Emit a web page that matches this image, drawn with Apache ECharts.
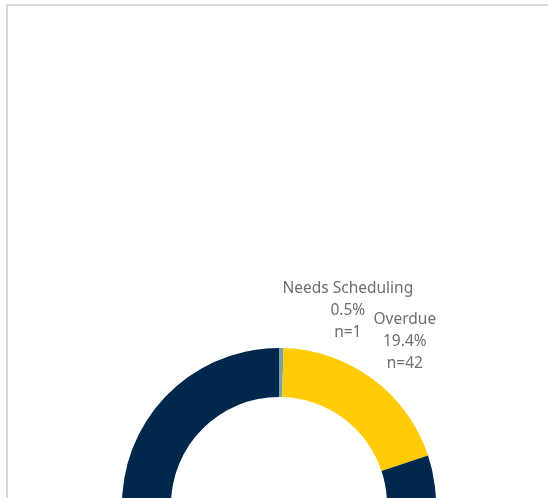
<!DOCTYPE html>
<html>
<head>
<meta charset="utf-8">
<script src="https://cdn.jsdelivr.net/npm/echarts@6/dist/echarts.min.js"></script>
<style>
	html, body { margin: 0; padding: 0; background: #fff; }
	.frame {
		position: absolute; left: 6px; top: 4px; width: 560px; height: 520px;
		border-left: 2px solid #d9d9d9; border-top: 2px solid #d9d9d9;
	}
	#chart { position: absolute; left: 0; top: 0; width: 548px; height: 498px; }
</style>
</head>
<body>
<div class="frame"></div>
<div id="chart"></div>
<script>
	// 状态分类及数量
	const categories = ['Needs Scheduling', 'Overdue', 'Completed'];
	const counts = [1, 42, 173];
	const showLabel = [true, true, false];

	const colors = ['#7BA0A4', '#FFCB05', '#00274C'];
	// 环形中心与半径
	const cx = 279, cy = 505, rIn = 108, rOut = 157;

	const total = counts.reduce((a, b) => a + b, 0);
	// 标签位置：沿扇区中线向外
	function labelPos(idx) {
		let before = 0;
		for (let i = 0; i < idx; i++) before += counts[i];
		const mid = (before + counts[idx] / 2) / total * Math.PI * 2;
		const dist = idx === 0 ? 194 : 204;
		const nudge = idx === 0 ? 66 : 4;
		return [cx + Math.sin(mid) * dist + nudge, cy - Math.cos(mid) * dist];
	}

	const myChart = echarts.init(document.getElementById('chart'));
	myChart.setOption({
		animation: false,
		series: [{
			type: 'pie',
			center: [cx, cy],
			radius: [rIn, rOut],
			startAngle: 90,
			clockwise: true,
			percentPrecision: 1,
			avoidLabelOverlap: false,
			label: {
				position: 'outside',
				color: '#6e6e6e',
				fontFamily: 'Noto Sans',
				fontSize: 15.5,
				lineHeight: 22,
				formatter: p => p.name + '\n' + p.percent.toFixed(1) + '%\nn=' + p.value
			},
			labelLine: { show: false },
			labelLayout: function (params) {
				const pos = labelPos(params.dataIndex);
				return { x: pos[0], y: pos[1], align: 'center', verticalAlign: 'middle' };
			},
			itemStyle: { borderWidth: 0 },
			emphasis: { disabled: true },
			data: categories.map((name, i) => ({
				name: name,
				value: counts[i],
				itemStyle: { color: colors[i] },
				label: { show: showLabel[i] }
			}))
		}]
	});
</script>
</body>
</html>
